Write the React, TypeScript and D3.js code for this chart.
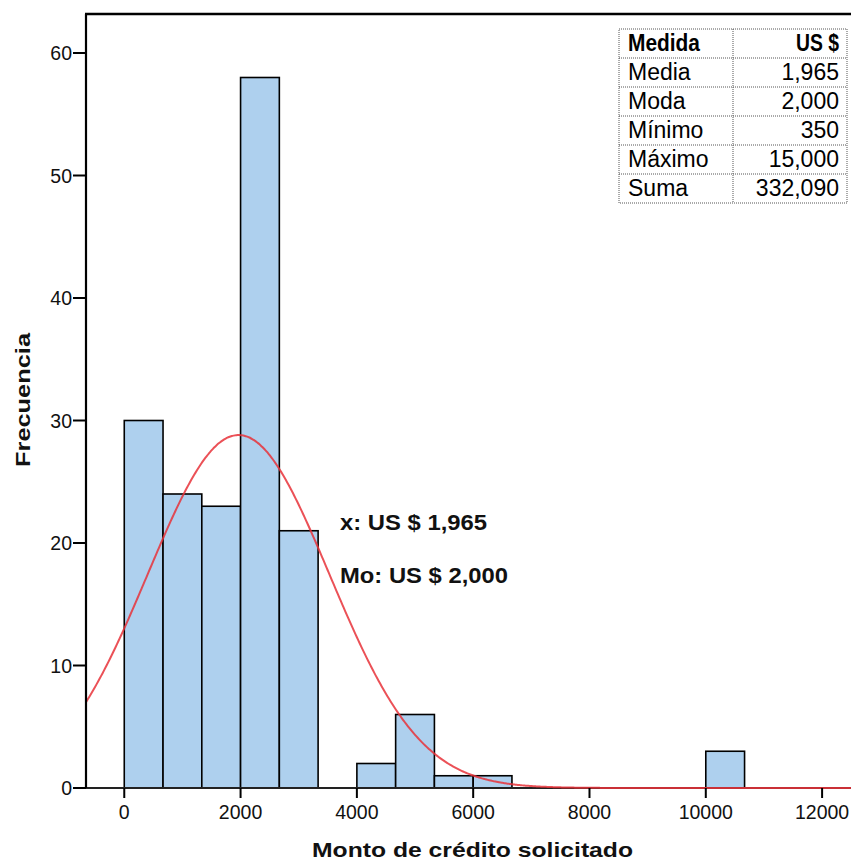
import React, { useEffect, useRef } from "react";
import * as d3 from "d3";

const binStarts = [0, 666.67, 1333.33, 2000, 2666.67, 3333.33, 4000, 4666.67, 5333.33, 6000, 10000];
const binCounts = [30, 24, 23, 58, 21, 0, 2, 6, 1, 1, 3];
const binWidth = 666.67;
const xTicks = [0, 2000, 4000, 6000, 8000, 10000, 12000];
const yTicks = [0, 10, 20, 30, 40, 50, 60];
const tableRows = [
  ["Medida", "US $"],
  ["Media", "1,965"],
  ["Moda", "2,000"],
  ["Mínimo", "350"],
  ["Máximo", "15,000"],
  ["Suma", "332,090"],
];
const headerWidths = [72, 43];
const meanVal = 1965;
const sdVal = 1560;
const nVal = 169;
const annotations = ["x: US $ 1,965", "Mo: US $ 2,000"];
const annotationWidths = [147, 168];

const W = 851;
const H = 864;
const left = 86;
const top = 14;
const bottom = 788;
const right = 851;

export default function App() {
  const ref = useRef<SVGSVGElement>(null);
  useEffect(() => {
    document.body.style.margin = "0";
    const svg = d3.select(ref.current);
    svg.selectAll("*").remove();
    const x = d3.scaleLinear().domain([-658, 12497]).range([left, right]);
    const y = d3.scaleLinear().domain([0, 60]).range([bottom, 53]);
    const font = "'Liberation Sans', Arial, sans-serif";

    const clip = svg.append("defs").append("clipPath").attr("id", "plotclip");
    clip.append("rect").attr("x", left).attr("y", top).attr("width", right - left + 10).attr("height", bottom - top + 3);

    // bars
    const g = svg.append("g").attr("clip-path", "url(#plotclip)");
    g.selectAll("rect.bar")
      .data(binStarts.map((s, i) => ({ s, c: binCounts[i] })).filter((d) => d.c > 0))
      .enter()
      .append("rect")
      .attr("class", "bar")
      .attr("x", (d) => x(d.s))
      .attr("y", (d) => y(d.c))
      .attr("width", (d) => x(d.s + binWidth) - x(d.s))
      .attr("height", (d) => y(0) - y(d.c))
      .attr("fill", "#aed0ee")
      .attr("stroke", "#000")
      .attr("stroke-width", 1.6);

    // x axis baseline
    svg.append("line").attr("x1", left - 13).attr("x2", right).attr("y1", bottom).attr("y2", bottom)
      .attr("stroke", "#222").attr("stroke-width", 2.2);

    // normal curve
    const pts = d3.range(-700, 12600, 25).map((v) => {
      const z = (v - meanVal) / sdVal;
      return [v, (nVal * binWidth) / (sdVal * Math.sqrt(2 * Math.PI)) * Math.exp(-0.5 * z * z)] as [number, number];
    });
    const line = d3.line<[number, number]>().x((d) => x(d[0])).y((d) => y(d[1])).curve(d3.curveBasis);
    const g2 = svg.append("g").attr("clip-path", "url(#plotclip)");
    g2.append("path").attr("d", line(pts)!).attr("fill", "none").attr("stroke", "#e8323a").attr("stroke-width", 2)
      .attr("stroke-opacity", 0.85);

    // frame: left and top
    svg.append("line").attr("x1", left).attr("x2", left).attr("y1", top).attr("y2", bottom)
      .attr("stroke", "#000").attr("stroke-width", 2.2);
    svg.append("line").attr("x1", left - 1).attr("x2", right).attr("y1", top).attr("y2", top)
      .attr("stroke", "#000").attr("stroke-width", 2.6);

    // y axis
    const ya = svg.append("g");
    yTicks.forEach((t) => {
      ya.append("line").attr("x1", left - 13).attr("x2", left).attr("y1", y(t)).attr("y2", y(t))
        .attr("stroke", "#000").attr("stroke-width", 2);
      ya.append("text").attr("x", left - 14).attr("y", y(t) + 7).attr("text-anchor", "end")
        .attr("font-family", font).attr("font-size", 19.5).attr("fill", "#111").text(String(t));
    });
    // x axis
    const xa = svg.append("g");
    xTicks.forEach((t) => {
      xa.append("line").attr("x1", x(t)).attr("x2", x(t)).attr("y1", bottom).attr("y2", bottom + 10)
        .attr("stroke", "#000").attr("stroke-width", 2);
      xa.append("text").attr("x", x(t)).attr("y", 819).attr("text-anchor", "middle")
        .attr("font-family", font).attr("font-size", 19.5).attr("fill", "#111").text(String(t));
    });

    // axis titles
    svg.append("text").attr("x", 312).attr("y", 857)
      .attr("font-family", font).attr("font-weight", "bold").attr("font-size", 21).attr("fill", "#111")
      .attr("textLength", 321).attr("lengthAdjust", "spacingAndGlyphs")
      .text("Monto de crédito solicitado");
    svg.append("text").attr("transform", `translate(30,467) rotate(-90)`)
      .attr("font-family", font).attr("font-weight", "bold").attr("font-size", 21).attr("fill", "#111")
      .attr("textLength", 134).attr("lengthAdjust", "spacingAndGlyphs")
      .text("Frecuencia");

    // annotations
    annotations.forEach((a, i) => {
      svg.append("text").attr("x", 340).attr("y", 530 + i * 53)
        .attr("font-family", font).attr("font-weight", "bold").attr("font-size", 22).attr("fill", "#111")
        .attr("textLength", annotationWidths[i]).attr("lengthAdjust", "spacingAndGlyphs").text(a);
    });

    // table
    const tx0 = 619, tx1 = 733, tx2 = 847, ty0 = 29, rh = 29;
    const tg = svg.append("g");
    tg.append("rect").attr("x", tx0).attr("y", ty0).attr("width", tx2 - tx0).attr("height", rh * tableRows.length)
      .attr("fill", "#fff").attr("stroke", "#555").attr("stroke-width", 1).attr("stroke-dasharray", "1,1");
    tableRows.forEach((r, i) => {
      if (i > 0) tg.append("line").attr("x1", tx0).attr("x2", tx2).attr("y1", ty0 + i * rh).attr("y2", ty0 + i * rh)
        .attr("stroke", "#555").attr("stroke-dasharray", "1,1");
      const t1 = tg.append("text").attr("x", tx0 + 9).attr("y", ty0 + i * rh + 22).attr("font-family", font)
        .attr("font-size", 23).attr("font-weight", i === 0 ? "bold" : "normal").attr("fill", "#000").text(r[0]);
      const t2 = tg.append("text").attr("x", tx2 - 8).attr("y", ty0 + i * rh + 22).attr("text-anchor", "end").attr("font-family", font)
        .attr("font-size", 23).attr("font-weight", i === 0 ? "bold" : "normal").attr("fill", "#000").text(r[1]);
      if (i === 0) {
        t1.attr("textLength", headerWidths[0]).attr("lengthAdjust", "spacingAndGlyphs");
        t2.attr("textLength", headerWidths[1]).attr("lengthAdjust", "spacingAndGlyphs");
      }
    });
    tg.append("line").attr("x1", tx1).attr("x2", tx1).attr("y1", ty0).attr("y2", ty0 + rh * tableRows.length)
      .attr("stroke", "#555").attr("stroke-dasharray", "1,1");
  }, []);
  return <svg ref={ref} width={W} height={H} style={{ display: "block", background: "#fff" }} />;
}
